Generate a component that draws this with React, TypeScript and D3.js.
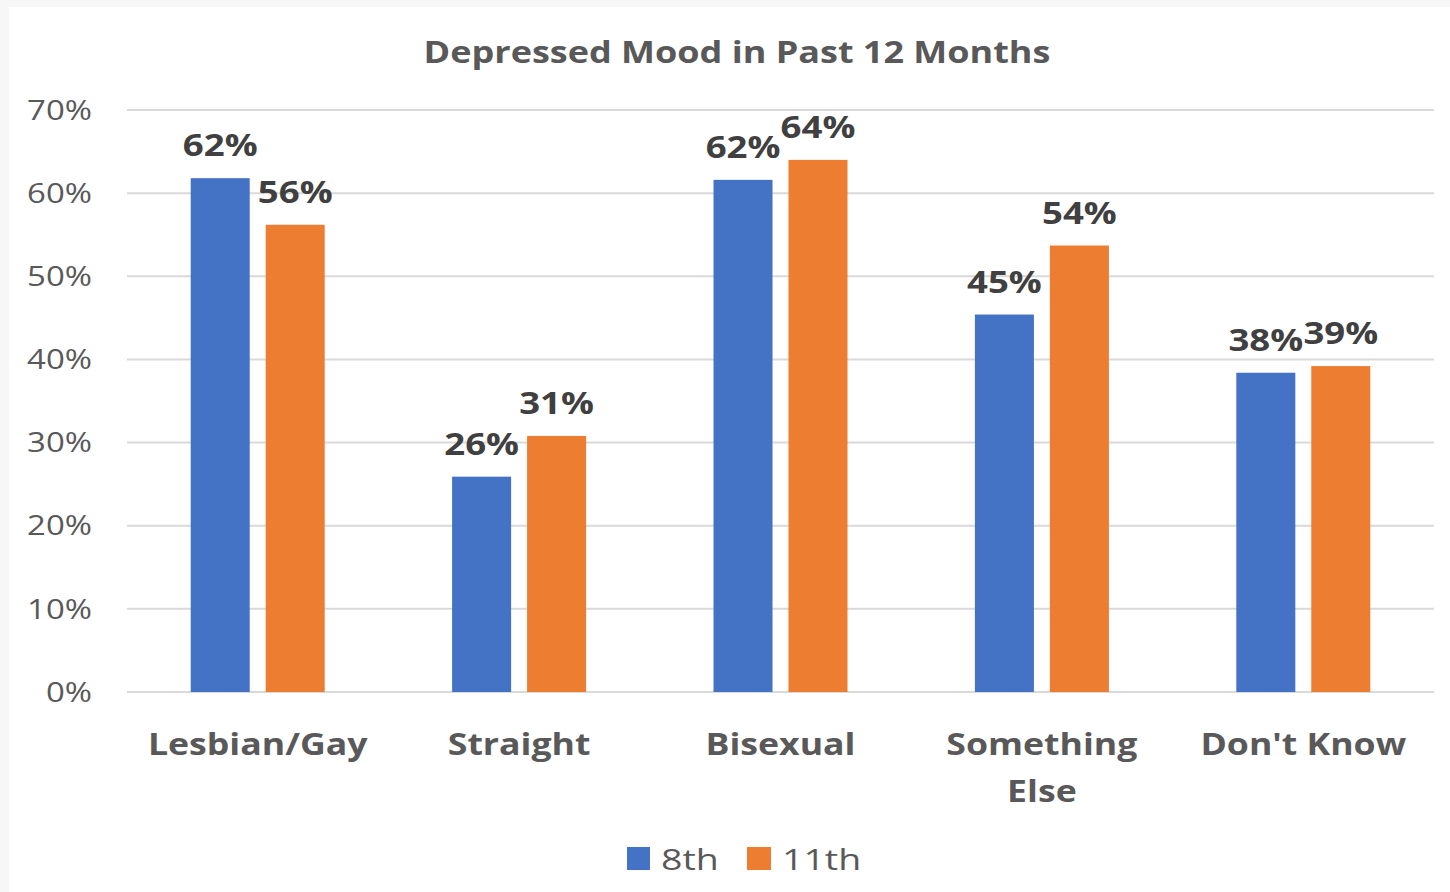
import React from "react";
import * as d3 from "d3";

const categories = ["Lesbian/Gay", "Straight", "Bisexual", "Something Else", "Don't Know"];
const categoryLines = [["Lesbian/Gay"], ["Straight"], ["Bisexual"], ["Something", "Else"], ["Don't Know"]];
const seriesNames = ["8th", "11th"];
const grade8 = [61.8, 25.9, 61.6, 45.4, 38.4];
const grade11 = [56.2, 30.8, 64.0, 53.7, 39.2];
const yTicks = [0, 10, 20, 30, 40, 50, 60, 70];
const colors = ["#4472C4", "#ED7D31"];
const title = "Depressed Mood in Past 12 Months";

const W = 1450;
const H = 892;
const FONT = "'Open Sans', 'Noto Sans', sans-serif";

export default function App() {
  const left = 127;
  const right = 1434;
  const top = 110;
  const bottom = 692;

  const x0 = d3.scaleBand<string>().domain(categories).range([left, right]).paddingInner(0.4874).paddingOuter(0.2437);
  const x1 = d3.scaleBand<string>().domain(seriesNames).range([0, x0.bandwidth()]).paddingInner(0.213).paddingOuter(0);
  const y = d3.scaleLinear().domain([0, 70]).range([bottom, top]);
  const series = [grade8, grade11];

  const tf = (x: number, yy: number, sx: number) => `translate(${x},${yy}) scale(${sx},1)`;

  return (
    <svg width={W} height={H} style={{ position: "absolute", left: 0, top: 0, display: "block" }}>
      <rect x={0} y={0} width={W} height={H} fill="#f7f7f7" />
      <rect x={9} y={7} width={W - 9} height={H - 7} fill="#ffffff" />
      <text transform={tf(737, 63, 1.2)} textAnchor="middle" fontFamily={FONT} fontWeight="bold" fontSize={30} fill="#595959">
        {title}
      </text>
      {yTicks.map((t) => (
        <g key={t}>
          <line x1={left} x2={right} y1={y(t)} y2={y(t)} stroke="#d9d9d9" strokeWidth={2} />
          <text transform={tf(92, y(t), 1.22)} dy="0.36em" textAnchor="end" fontFamily={FONT} fontSize={27} fill="#595959">
            {t + "%"}
          </text>
        </g>
      ))}
      {categories.map((c, ci) => (
        <g key={c} transform={`translate(${x0(c)},0)`}>
          {seriesNames.map((s, si) => {
            const v = series[si][ci];
            const bx = x1(s)!;
            return (
              <g key={s}>
                <rect x={bx} y={y(v)} width={x1.bandwidth()} height={y(0) - y(v)} fill={colors[si]} />
                <text
                  transform={tf(bx + x1.bandwidth() / 2, y(v) - 22, 1.18)}
                  textAnchor="middle"
                  fontFamily={FONT}
                  fontWeight="bold"
                  fontSize={31}
                  fill="#404040"
                >
                  {Math.round(v) + "%"}
                </text>
              </g>
            );
          })}
        </g>
      ))}
      {categories.map((c, ci) => (
        <text
          key={c}
          transform={tf(x0(c)! + x0.bandwidth() / 2, 755, 1.15)}
          textAnchor="middle"
          fontFamily={FONT}
          fontWeight="bold"
          fontSize={31}
          fill="#595959"
        >
          {categoryLines[ci].map((line, li) => (
            <tspan key={li} x={0} dy={li === 0 ? 0 : 47}>
              {line}
            </tspan>
          ))}
        </text>
      ))}
      <g>
        <rect x={627} y={847} width={23} height={23} fill={colors[0]} />
        <text transform={tf(661, 870, 1.25)} fontFamily={FONT} fontSize={30} fill="#595959">
          {seriesNames[0]}
        </text>
        <rect x={747} y={847} width={24} height={23} fill={colors[1]} />
        <text transform={tf(782, 870, 1.25)} fontFamily={FONT} fontSize={30} fill="#595959">
          {seriesNames[1]}
        </text>
      </g>
    </svg>
  );
}
